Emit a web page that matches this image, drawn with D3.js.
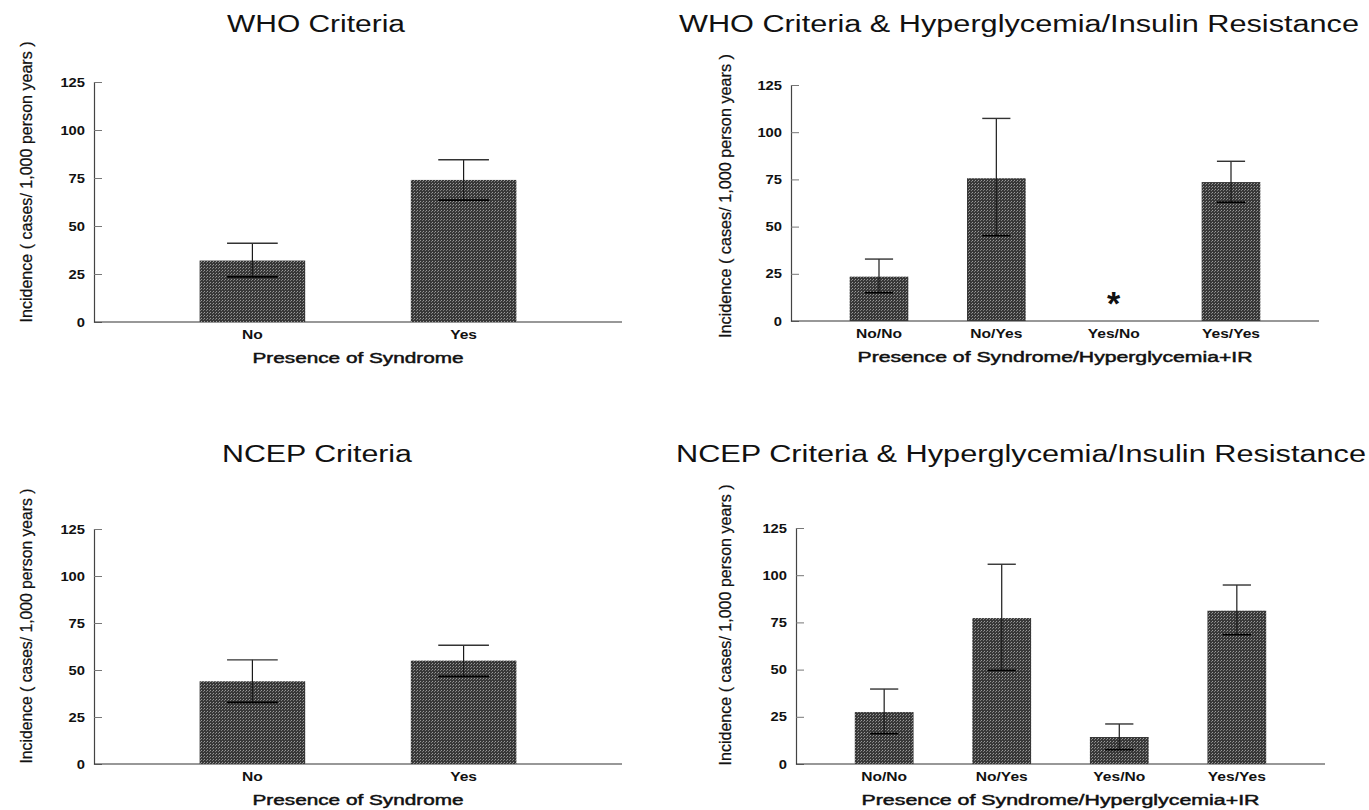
<!DOCTYPE html>
<html>
<head>
<meta charset="utf-8">
<script src="https://d3js.org/d3.v7.min.js"></script>
<style>
	body { margin: 0; background: #fff; }
	text { font-family: 'Liberation Sans', Arial, sans-serif; fill: #111; }
</style>
</head>
<body>
<div id='fig'></div>
<script>
// values (cases / 1,000 person years)
const yTicks = [0, 25, 50, 75, 100, 125]
const twoCats = ['No', 'Yes']
const fourCats = ['No/No', 'No/Yes', 'Yes/No', 'Yes/Yes']

const whoRate = [32, 74]
const whoLow = [23.5, 63.5]
const whoHigh = [41, 84.5]

const whoIrRate = [23.5, 75.6, null, 73.6]
const whoIrLow = [15, 45.2, null, 62.9]
const whoIrHigh = [32.8, 107.3, null, 84.6]

const ncepRate = [44, 55]
const ncepLow = [32.8, 46.6]
const ncepHigh = [55.4, 63.2]

const ncepIrRate = [27.5, 77.3, 14.3, 81.2]
const ncepIrLow = [16.1, 49.6, 7.6, 68.5]
const ncepIrHigh = [39.7, 105.8, 21.2, 94.8]

const titles = ['WHO Criteria', 'WHO Criteria & Hyperglycemia/Insulin Resistance',
	'NCEP Criteria', 'NCEP Criteria & Hyperglycemia/Insulin Resistance']
const xTitles = ['Presence of Syndrome', 'Presence of Syndrome/Hyperglycemia+IR']
const yTitle = 'Incidence ( cases/ 1,000 person years )'

const W = 1369, H = 810
const svg = d3.select('#fig').append('svg')
	.attr('width', W)
	.attr('height', H)

// halftone look of the printed bars
const defs = svg.append('defs')
const pat = defs.append('pattern')
	.attr('id', 'tone')
	.attr('width', 3).attr('height', 3)
	.attr('patternUnits', 'userSpaceOnUse')
pat.append('rect').attr('width', 3).attr('height', 3).attr('fill', '#383838')
pat.append('rect').attr('x', 0).attr('y', 0).attr('width', 1).attr('height', 1).attr('fill', '#9a9a9a')
pat.append('rect').attr('x', 2).attr('y', 1).attr('width', 1).attr('height', 1).attr('fill', '#7c7c7c')

function drawPanel(p) {
	const g = svg.append('g')
	const x = d3.scaleBand()
		.domain(p.cats)
		.range([p.x0, p.x1])
		.paddingInner(0.5)
		.paddingOuter(0.5)
	const y = d3.scaleLinear().domain([0, 125]).range([p.yb, p.yt])

	// title
	g.append('text')
		.attr('x', p.tx).attr('y', p.ty)
		.attr('text-anchor', 'middle')
		.attr('textLength', p.tw).attr('lengthAdjust', 'spacingAndGlyphs')
		.style('font-size', '23.5px')
		.text(p.title)

	// y axis
	const ya = g.append('g')
		.attr('transform', 'translate(' + p.x0 + ',0)')
		.call(d3.axisRight(y).tickValues(yTicks).tickSize(8).tickFormat(''))
	ya.select('.domain').attr('stroke', '#444').attr('stroke-width', 1.2)
	ya.selectAll('.tick line').attr('stroke', '#777')
	g.selectAll('text.ytick')
		.data(yTicks)
		.enter().append('text')
		.attr('class', 'ytick')
		.attr('transform', d => 'translate(' + (p.x0 - 9) + ',' + (y(d) + 4.5) + ') scale(1.18,1)')
		.attr('text-anchor', 'end')
		.style('font-size', '12.5px')
		.style('font-weight', 'bold')
		.text(d => d)

	// x axis line
	g.append('line')
		.attr('x1', p.x0).attr('x2', p.x1)
		.attr('y1', y(0)).attr('y2', y(0))
		.attr('stroke', '#333').attr('stroke-width', 1.2)

	g.selectAll('text.xtick')
		.data(p.cats)
		.enter().append('text')
		.attr('class', 'xtick')
		.attr('transform', d => 'translate(' + (x(d) + x.bandwidth() / 2) + ',' + (y(0) + 16.5) + ') scale(1.3,1)')
		.attr('text-anchor', 'middle')
		.style('font-size', '12px')
		.style('font-weight', 'bold')
		.text(d => d)

	g.append('text')
		.attr('x', (p.x0 + p.x1) / 2).attr('y', y(0) + 41)
		.attr('text-anchor', 'middle')
		.attr('textLength', p.xw).attr('lengthAdjust', 'spacingAndGlyphs')
		.style('font-size', '14px')
		.style('stroke', '#111').style('stroke-width', 0.45)
		.text(p.xTitle)

	// y title
	g.append('text')
		.attr('transform', 'translate(' + p.lx + ',' + p.ly + ') rotate(-90)')
		.attr('text-anchor', 'middle')
		.attr('textLength', p.lw).attr('lengthAdjust', 'spacingAndGlyphs')
		.style('font-size', '17px')
		.style('stroke', '#111').style('stroke-width', 0.25)
		.text(yTitle)

	const rows = p.cats.map((c, i) => ({cat: c, v: p.rate[i], lo: p.low[i], hi: p.high[i]}))
	const has = rows.filter(d => d.v != null)

	g.selectAll('rect.bar')
		.data(has)
		.enter().append('rect')
		.attr('class', 'bar')
		.attr('x', d => x(d.cat))
		.attr('width', x.bandwidth())
		.attr('y', d => y(d.v))
		.attr('height', d => y(0) - y(d.v))
		.attr('fill', 'url(#tone)')

	const cw = x.bandwidth() * 0.24
	const eb = g.selectAll('g.err')
		.data(has)
		.enter().append('g')
		.attr('class', 'err')
		.attr('transform', d => 'translate(' + (x(d.cat) + x.bandwidth() / 2) + ',0)')
	eb.append('line')
		.attr('y1', d => y(d.lo)).attr('y2', d => y(d.hi))
		.attr('stroke', '#1a1a1a').attr('stroke-width', 1.2)
	eb.append('line')
		.attr('x1', -cw).attr('x2', cw)
		.attr('y1', d => y(d.hi)).attr('y2', d => y(d.hi))
		.attr('stroke', '#333').attr('stroke-width', 1.4)
	eb.append('line')
		.attr('x1', -cw).attr('x2', cw)
		.attr('y1', d => y(d.lo)).attr('y2', d => y(d.lo))
		.attr('stroke', '#000').attr('stroke-width', 1.6)

	// categories without a rate get an asterisk
	g.selectAll('text.star')
		.data(rows.filter(d => d.v == null))
		.enter().append('text')
		.attr('class', 'star')
		.attr('x', d => x(d.cat) + x.bandwidth() / 2)
		.attr('y', y(0) - 6)
		.attr('text-anchor', 'middle')
		.style('font-size', '34px')
		.style('font-weight', 'bold')
		.text('*')
}

drawPanel({cats: twoCats, rate: whoRate, low: whoLow, high: whoHigh,
	x0: 94, x1: 622, yt: 82, yb: 322,
	title: titles[0], tx: 316, ty: 32, tw: 178,
	xTitle: xTitles[0], xw: 211,
	lx: 32, ly: 182, lw: 281})

drawPanel({cats: fourCats, rate: whoIrRate, low: whoIrLow, high: whoIrHigh,
	x0: 791, x1: 1319, yt: 85, yb: 321,
	title: titles[1], tx: 1019, ty: 32, tw: 680,
	xTitle: xTitles[1], xw: 395,
	lx: 731, ly: 196, lw: 284})

drawPanel({cats: twoCats, rate: ncepRate, low: ncepLow, high: ncepHigh,
	x0: 94, x1: 622, yt: 529, yb: 764,
	title: titles[2], tx: 317, ty: 462, tw: 190,
	xTitle: xTitles[0], xw: 211,
	lx: 32, ly: 626, lw: 275})

drawPanel({cats: fourCats, rate: ncepIrRate, low: ncepIrLow, high: ncepIrHigh,
	x0: 796, x1: 1325, yt: 528, yb: 764,
	title: titles[3], tx: 1021, ty: 462, tw: 690,
	xTitle: xTitles[1], xw: 398,
	lx: 731, ly: 625, lw: 281})
</script>
</body>
</html>
